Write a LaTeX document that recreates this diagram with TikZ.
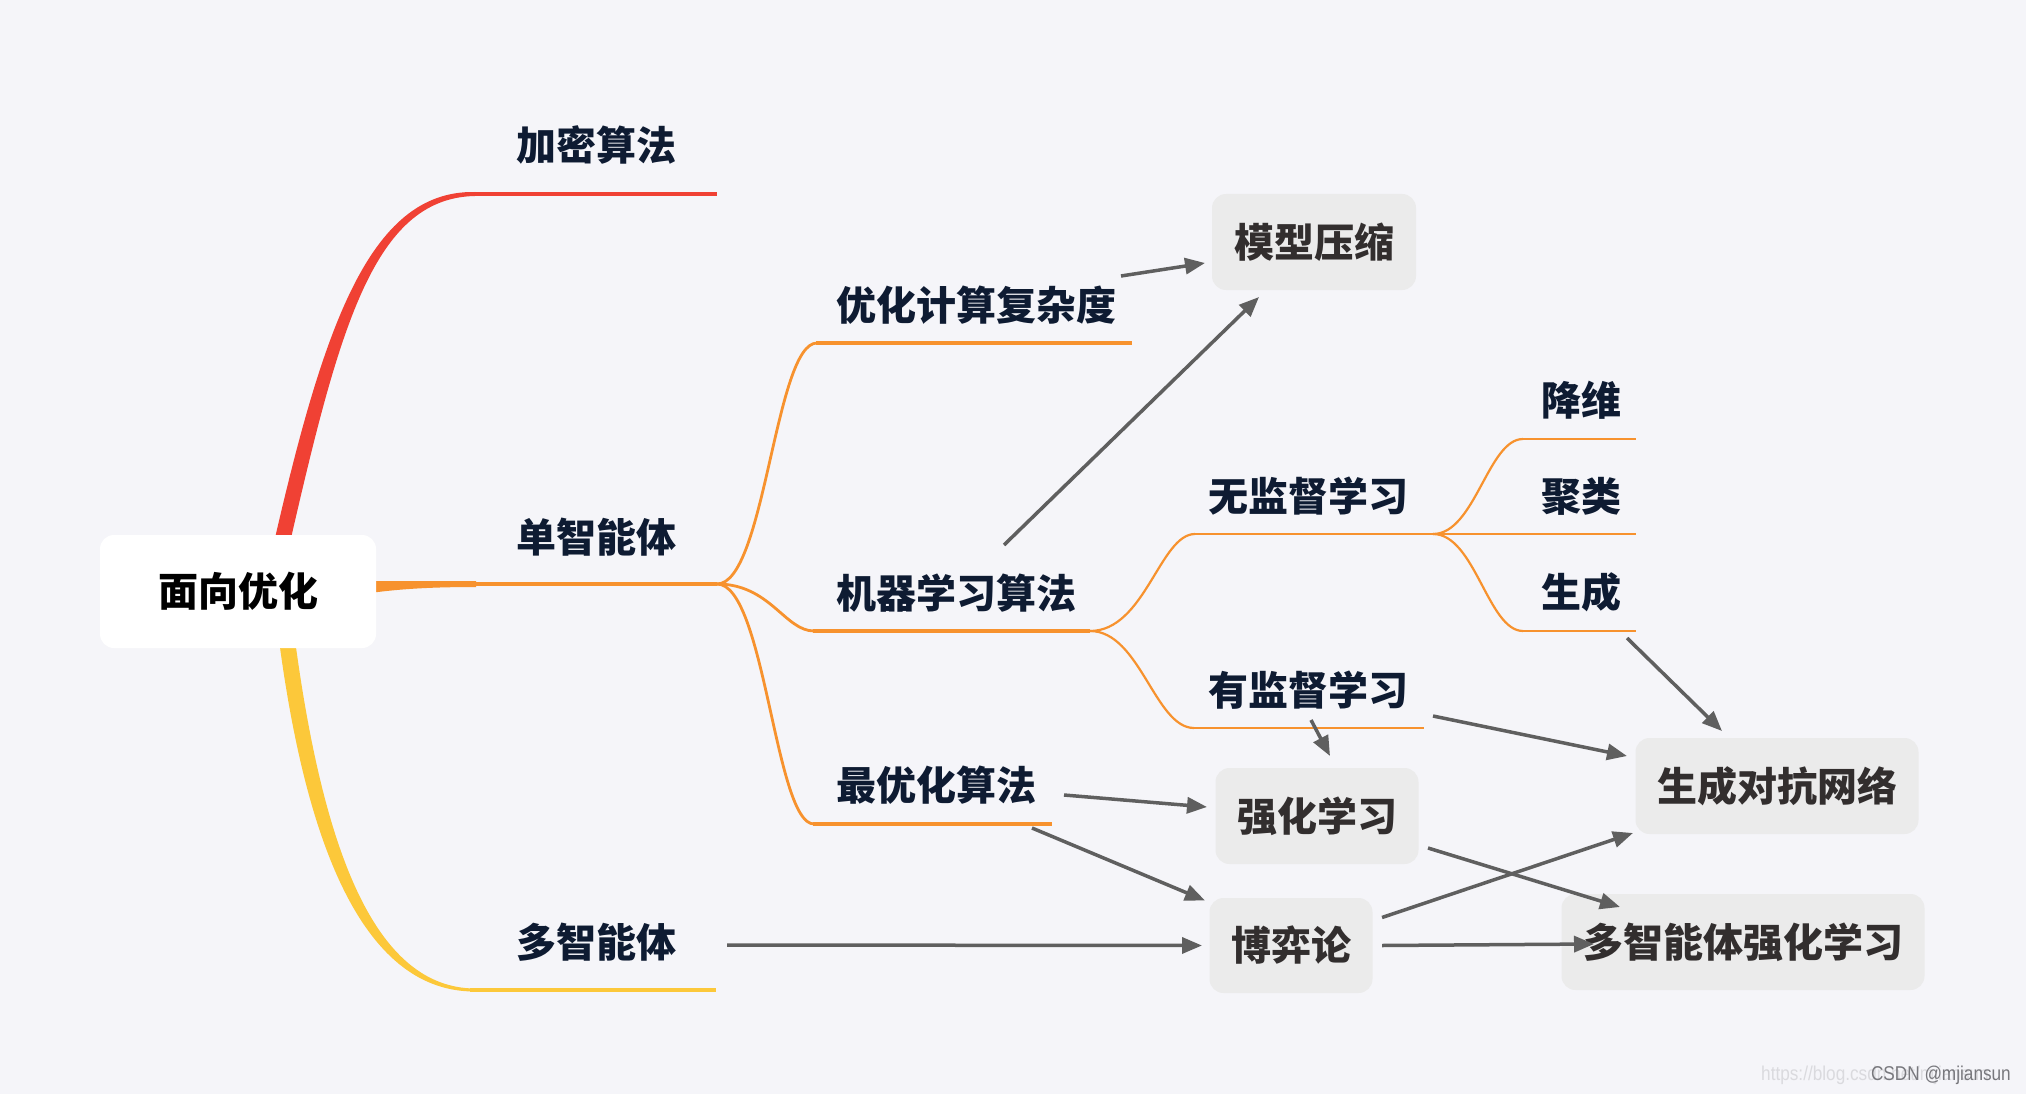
\documentclass[tikz,border=0pt]{standalone}
\usepackage{fontspec}
\setmainfont{Liberation Sans}
\newfontfamily\cjk{Noto Sans CJK SC}
\usetikzlibrary{arrows.meta,calc}
\definecolor{bg}{RGB}{245,245,249}
\definecolor{cred}{RGB}{240,65,52}
\definecolor{corange}{RGB}{247,146,46}
\definecolor{cyellow}{RGB}{252,200,58}
\definecolor{navy}{RGB}{14,27,50}
\definecolor{boxfill}{RGB}{235,235,235}
\definecolor{boxtext}{RGB}{50,46,46}
\definecolor{arrowgray}{RGB}{95,95,95}
\definecolor{wmlight}{RGB}{218,218,222}
\definecolor{wmdark}{RGB}{120,120,125}
\begin{document}
\begin{tikzpicture}[x=1pt,y=-1pt,
  lbl/.style={font=\cjk\bfseries\fontsize{40}{48}\selectfont, text=navy, inner sep=0pt},
  rootbox/.style={fill=white, rounded corners=14pt, font=\cjk\bfseries\fontsize{40}{48}\selectfont, text=black, inner sep=0pt, minimum width=276pt, minimum height=113pt},
  gbox/.style={fill=boxfill, rounded corners=14pt, font=\cjk\bfseries\fontsize{40}{48}\selectfont, text=boxtext, inner sep=0pt, minimum height=96pt},
  arr/.style={draw=arrowgray, line width=3.5pt, -{Triangle[length=20pt,width=16pt]}},
  ul2/.style={draw=corange, line width=4pt},
  cv2/.style={draw=corange, line width=2.8pt},
  ul3/.style={draw=corange, line width=2.8pt},
  cv3/.style={draw=corange, line width=2.2pt}
]
\useasboundingbox (0,0) rectangle (2026,1094);
\fill[bg] (0,0) rectangle (2026,1094);

% main branches
\fill[cred] (270,560) .. controls (322,330) and (368,190) .. (475,192) -- (475,196) .. controls (372,198) and (338,332) .. (286,560) -- cycle;
\draw[cred, line width=4pt] (470,194) -- (717,194);
\fill[cyellow] (279,640) .. controls (307,852) and (366,992) .. (475,991.5) -- (475,988.5) .. controls (374,988) and (323,848) .. (295,640) -- cycle;
\draw[cyellow, line width=4pt] (470,990) -- (716,990);
\fill[corange] (370,581) -- (476,581) -- (476,587) .. controls (430,587) and (400,589) .. (370,593) -- cycle;
\draw[ul2] (470,584) -- (717,584);

% level 2
\coordinate (bp1) at (717,584);
\draw[cv2] (bp1) .. controls (765,584) and (775,343) .. (817,343);
\draw[ul2] (816,343) -- (1132,343);
\draw[cv2] (bp1) .. controls (770,584) and (785,631) .. (814,631);
\draw[ul2] (813,631) -- (1090,631);
\draw[cv2] (bp1) .. controls (765,584) and (775,824) .. (814,824);
\draw[ul2] (813,824) -- (1052,824);

% level 3
\coordinate (bp2) at (1090,631);
\draw[cv3] (bp2) .. controls (1145,631) and (1160,534) .. (1195,534);
\draw[ul3] (1194,534) -- (1433,534);
\draw[cv3] (bp2) .. controls (1140,631) and (1155,728) .. (1194,728);
\draw[ul3] (1193,728) -- (1424,728);

% level 4
\coordinate (bp3) at (1433,534);
\draw[cv3] (bp3) .. controls (1475,534) and (1488,439) .. (1523,439);
\draw[ul3] (1522,439) -- (1636,439);
\draw[ul3] (bp3) -- (1636,534);
\draw[cv3] (bp3) .. controls (1475,534) and (1488,631) .. (1523,631);
\draw[ul3] (1522,631) -- (1636,631);

% root
\node[rootbox] (root) at (238,591.5) {面向优化};

% labels
\node[lbl] (jm) at (596,145) {加密算法};
\node[lbl] (single) at (596,537) {单智能体};
\node[lbl] (multi) at (596,942) {多智能体};
\node[lbl] (comp) at (976,305) {优化计算复杂度};
\node[lbl] (ml) at (956,593) {机器学习算法};
\node[lbl] (opt) at (936,785) {最优化算法};
\node[lbl] (unsup) at (1308,496) {无监督学习};
\node[lbl] (sup) at (1308,690) {有监督学习};
\node[lbl] (dr) at (1581,400) {降维};
\node[lbl] (clu) at (1581,496) {聚类};
\node[lbl] (gen) at (1581,592) {生成};

% boxes
\node[gbox, minimum width=204pt] (mc) at (1314,242) {模型压缩};
\node[gbox, minimum width=203pt] (rl) at (1317,816) {强化学习};
\node[gbox, minimum width=283pt] (gan) at (1777,786) {生成对抗网络};
\node[gbox, minimum width=163pt, minimum height=95pt] (gt) at (1291,945.5) {博弈论};
\node[gbox, minimum width=363pt] (marl) at (1743,942) {多智能体强化学习};

% arrows
\draw[arr] ([shift={(145,-29)}]comp.center) -- ([shift={(-109,21)}]mc.center);
\draw[arr] ([shift={(48,-48)}]ml.center) -- ([shift={(-55,55)}]mc.center);
\draw[arr] ([shift={(3,30)}]sup.center) -- ([shift={(13,-60)}]rl.center);
\draw[arr] ([shift={(125,26)}]sup.center) -- ([shift={(-150,-30)}]gan.center);
\draw[arr] ([shift={(46,46)}]gen.center) -- ([shift={(-55,-55)}]gan.center);
\draw[arr] ([shift={(128,10)}]opt.center) -- ([shift={(-110,-9)}]rl.center);
\draw[arr] ([shift={(96,43)}]opt.center) -- ([shift={(-86,-45)}]gt.center);
\draw[arr] ([shift={(111,32)}]rl.center) -- ([shift={(-123,-35)}]marl.center);
\draw[arr] ([shift={(91,-28)}]gt.center) -- ([shift={(-144,47)}]gan.center);
\draw[arr] ([shift={(91,0)}]gt.center) -- ([shift={(-149,2)}]marl.center);
\draw[arr] ([shift={(131,3)}]multi.center) -- ([shift={(-89,0)}]gt.center);

% watermark
\node[anchor=west, inner sep=0pt, xscale=0.86, font=\fontsize{20}{24}\selectfont, text=wmlight] (url) at (1761,1075) {https://blog.csdn.net/mjiansun};
\node[anchor=east, inner sep=0pt, xscale=0.86, font=\fontsize{20}{24}\selectfont, text=wmdark] (csdn) at (2011,1075) {CSDN @mjiansun};
\end{tikzpicture}
\end{document}
